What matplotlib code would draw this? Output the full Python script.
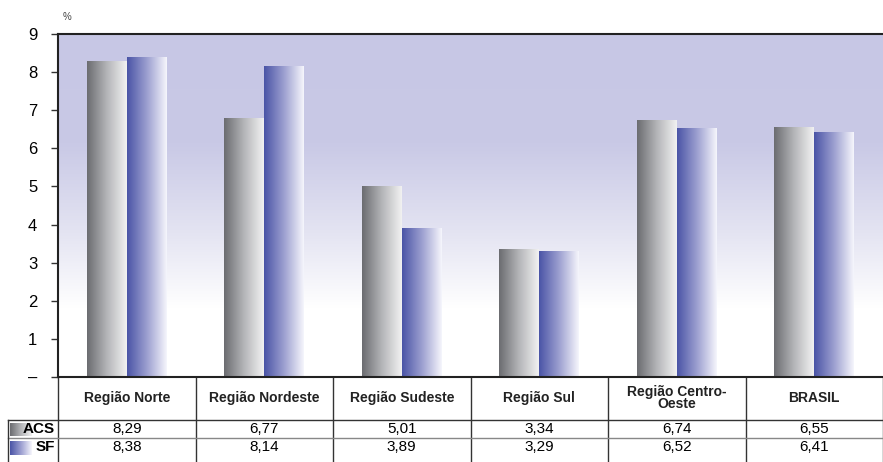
import numpy as np
import matplotlib.pyplot as plt
from matplotlib.colors import LinearSegmentedColormap
from matplotlib.transforms import blended_transform_factory

plt.rcParams['font.family'] = ['Liberation Sans', 'DejaVu Sans']

# Data
regions = ['Região Norte', 'Região Nordeste', 'Região Sudeste', 'Região Sul',
           'Região Centro-\nOeste', 'BRASIL']
acs = [8.29, 6.77, 5.01, 3.34, 6.74, 6.55]
sf = [8.38, 8.14, 3.89, 3.29, 6.52, 6.41]
acs_txt = ['8,29', '6,77', '5,01', '3,34', '6,74', '6,55']
sf_txt = ['8,38', '8,14', '3,89', '3,29', '6,52', '6,41']

grey_cm = LinearSegmentedColormap.from_list('g', ['#6b6c70', '#b4b5b8', '#f2f2f2'])
blue_cm = LinearSegmentedColormap.from_list('b', ['#4a54a6', '#9c9fd0', '#f6f6fc'])
bg_cm = LinearSegmentedColormap.from_list(
    'bg', [(0, '#ffffff'), (0.2, '#ffffff'), (0.42, '#e4e4f2'),
           (0.68, '#c9c9e6'), (1, '#c7c7e5')])

W, H = 883, 462
fig = plt.figure(figsize=(W / 100, H / 100), dpi=100)
ax = fig.add_axes([58 / W, (H - 377) / H, 825 / W, 343 / H])

x = np.arange(len(regions))
w = 0.29

# background gradient
grad = np.linspace(0, 1, 256).reshape(-1, 1)
ax.imshow(grad, cmap=bg_cm, origin='lower', extent=[-0.5, 5.5, 0, 9],
          aspect='auto', zorder=0)

hgrad = np.linspace(0, 1, 256).reshape(1, -1)
bars_a = ax.bar(x - w / 2, acs, w, color='none', zorder=2)
bars_s = ax.bar(x + w / 2, sf, w, color='none', zorder=2)
for bars, cm in ((bars_a, grey_cm), (bars_s, blue_cm)):
    for b in bars:
        x0, y0 = b.get_x(), b.get_y()
        ax.imshow(hgrad, cmap=cm, extent=[x0, x0 + b.get_width(), y0, y0 + b.get_height()],
                  aspect='auto', zorder=2)
ax.set_xlim(-0.5, len(regions) - 0.5)
ax.set_ylim(0, 9)

ax.set_yticks(range(10))
ax.set_yticklabels(['–'] + [str(i) for i in range(1, 10)], fontsize=12)
ax.set_xticks([])
ax.tick_params(axis='y', length=5, width=1, color='#333333', pad=10)
for s in ['left', 'top', 'bottom']:
    ax.spines[s].set_linewidth(1.5)
    ax.spines[s].set_color('#222222')
ax.spines['right'].set_visible(False)

fig.text(63 / W, 1 - 17 / H, '%', fontsize=7, color='#444444', va='center')

# table below the axes
tr = blended_transform_factory(ax.transData, ax.transAxes)
def ay(py):
    return (377 - py) / 343

y_hdr, y_r1, y_bot = ay(420), ay(438), ay(470)
lk = dict(transform=tr, clip_on=False, color='#333333', lw=1)
for k in range(len(regions) + 1):
    ax.plot([k - 0.5, k - 0.5], [0, y_bot], **lk)
left_x = -0.5 - 50 / 137.5
ax.plot([left_x, 5.5], [y_hdr, y_hdr], **lk)
ax.plot([left_x, 5.5], [y_r1, y_r1], transform=tr, clip_on=False, color='#888888', lw=1)
ax.plot([left_x, left_x], [y_hdr, y_bot], **lk)

for i, r in enumerate(regions):
    ax.text(i, ay(398), r, transform=tr, ha='center', va='center', fontsize=10,
            fontweight='bold', linespacing=0.9, color='#222222')
    ax.text(i, ay(429), acs_txt[i], transform=tr, ha='center', va='center', fontsize=11)
    ax.text(i, ay(447), sf_txt[i], transform=tr, ha='center', va='center', fontsize=11)

# legend swatches in row headers
for py0, py1, cm, lab, ty in ((423, 436, grey_cm, 'ACS', 429), (441, 455, blue_cm, 'SF', 447)):
    sw = fig.add_axes([10 / W, (H - py1) / H, 22 / W, (py1 - py0) / H])
    sw.imshow(hgrad, cmap=cm, aspect='auto')
    sw.axis('off')
    fig.text(55 / W, 1 - ty / H, lab, ha='right', va='center', fontsize=11, fontweight='bold')

fig.savefig('out.png', dpi=100)
